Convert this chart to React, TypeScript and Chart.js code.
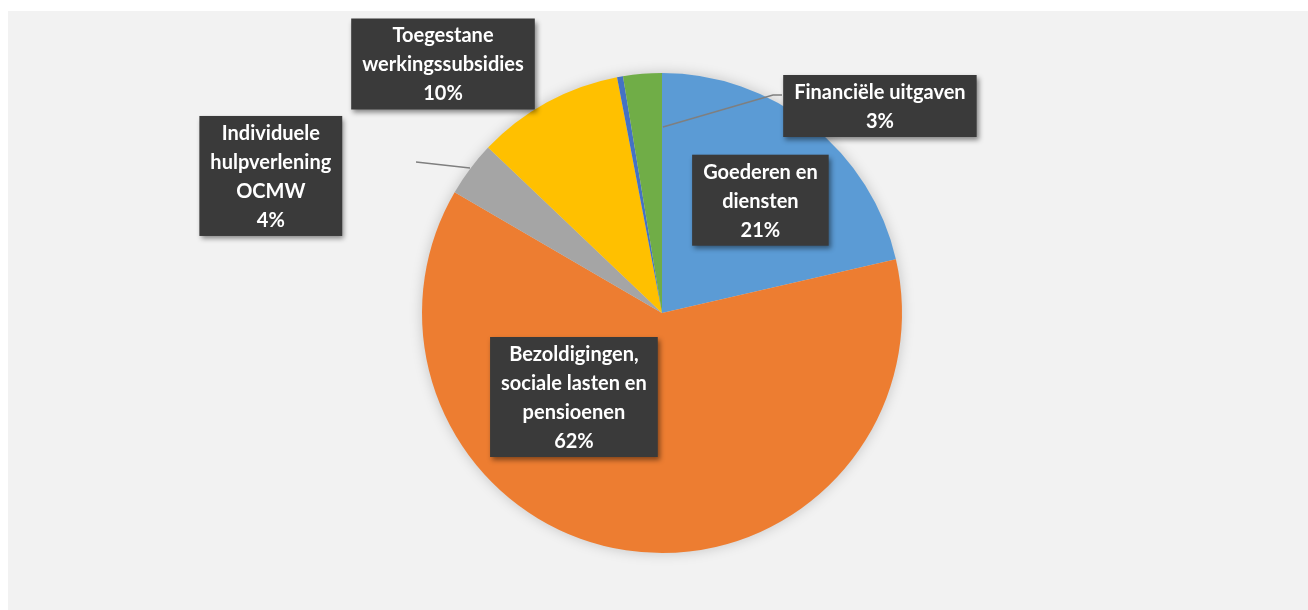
import React, { useEffect, useRef } from "react";
import { Chart, registerables } from "chart.js";

Chart.register(...registerables);

const categories = [
  "Goederen en diensten",
  "Bezoldigingen, sociale lasten en pensioenen",
  "Individuele hulpverlening OCMW",
  "Toegestane werkingssubsidies",
  "Overige",
  "Financiële uitgaven",
];
const values = [21.4, 62.0, 3.7, 9.9, 0.4, 2.6];
const labelLines = [
  ["Goederen en", "diensten"],
  ["Bezoldigingen,", "sociale lasten en", "pensioenen"],
  ["Individuele", "hulpverlening", "OCMW"],
  ["Toegestane", "werkingssubsidies"],
  [],
  ["Financiële uitgaven"],
];
const colors = ["#5B9BD5", "#ED7D31", "#A5A5A5", "#FFC000", "#4472C4", "#70AD47"];

// label box centres relative to pie centre, in units of radius
const labelPos: (number[] | null)[] = [
  [0.41, -0.47],
  [-0.367, 0.35],
  [-1.63, -0.571],
  [-0.9125, -1.0375],
  null,
  [0.908, -0.8625],
];
// leader lines, relative to pie centre in radius units
const leaders: (number[][] | null)[] = [
  null,
  null,
  [[-1.025, -0.629], [-0.8, -0.604]],
  null,
  null,
  [[0.004, -0.775], [0.4625, -0.908], [0.5, -0.908]],
];

const FONT = "bold 20px Lato, 'Open Sans', sans-serif";
const LINE_H = 29;

const labelPlugin = {
  id: "boxLabels",
  beforeDatasetsDraw(chart: any) {
    const meta = chart.getDatasetMeta(0);
    const arc = meta.data[0];
    if (!arc) return;
    const { x, y, outerRadius } = arc.getProps(["x", "y", "outerRadius"], true);
    const ctx = chart.ctx;
    ctx.save();
    ctx.shadowColor = "rgba(0,0,0,0.22)";
    ctx.shadowBlur = 14;
    ctx.fillStyle = "#d9d9d9";
    ctx.beginPath();
    ctx.arc(x, y, outerRadius - 1, 0, Math.PI * 2);
    ctx.fill();
    ctx.restore();
  },
  afterDatasetsDraw(chart: any) {
    const meta = chart.getDatasetMeta(0);
    const ctx = chart.ctx;
    const first = meta.data[0];
    const { x: cx, y: cy, outerRadius: r } = first.getProps(["x", "y", "outerRadius"], true);
    ctx.save();
    ctx.strokeStyle = "#7f7f7f";
    ctx.lineWidth = 1.5;
    leaders.forEach((pts) => {
      if (!pts) return;
      ctx.beginPath();
      pts.forEach((p, i) => {
        const px = cx + p[0] * r;
        const py = cy + p[1] * r;
        if (i === 0) ctx.moveTo(px, py);
        else ctx.lineTo(px, py);
      });
      ctx.stroke();
    });
    ctx.restore();

    values.forEach((v, i) => {
      const pos = labelPos[i];
      if (!pos) return;
      const lines = [...labelLines[i], Math.round(v) + "%"];
      ctx.save();
      ctx.font = FONT;
      const maxW = Math.max(...lines.map((l) => ctx.measureText(l).width));
      const w = maxW + 22;
      const h = lines.length * LINE_H + 4;
      const bx = cx + pos[0] * r - w / 2;
      const by = cy + pos[1] * r - h / 2;
      ctx.shadowColor = "rgba(0,0,0,0.45)";
      ctx.shadowBlur = 5;
      ctx.shadowOffsetX = 2;
      ctx.shadowOffsetY = 3;
      ctx.fillStyle = "#3a3a3a";
      ctx.fillRect(bx, by, w, h);
      ctx.shadowColor = "transparent";
      ctx.fillStyle = "#ffffff";
      ctx.textAlign = "center";
      ctx.textBaseline = "middle";
      lines.forEach((l, j) => {
        ctx.fillText(l, bx + w / 2, by + 2 + LINE_H * (j + 0.5) + 1);
      });
      ctx.restore();
    });
  },
};

export default function App() {
  const ref = useRef<HTMLCanvasElement>(null);
  useEffect(() => {
    if (!ref.current) return;
    const chart = new Chart(ref.current, {
      type: "pie",
      data: {
        labels: categories,
        datasets: [
          {
            data: values,
            backgroundColor: colors,
            borderWidth: 0,
            hoverOffset: 0,
          },
        ],
      },
      options: {
        animation: false,
        responsive: false,
        devicePixelRatio: 1,
        layout: { padding: { left: 8, right: 0, top: 62, bottom: 57 } },
        plugins: {
          legend: { display: false },
          tooltip: { enabled: false },
        },
        events: [],
      },
      plugins: [labelPlugin],
    });
    return () => chart.destroy();
  }, []);
  return (
    <div
      style={{
        position: "absolute",
        left: 8,
        top: 11,
        width: 1300,
        height: 599,
        background: "#f2f2f2",
      }}
    >
      <canvas ref={ref} width={1300} height={599} style={{ display: "block" }} />
    </div>
  );
}
